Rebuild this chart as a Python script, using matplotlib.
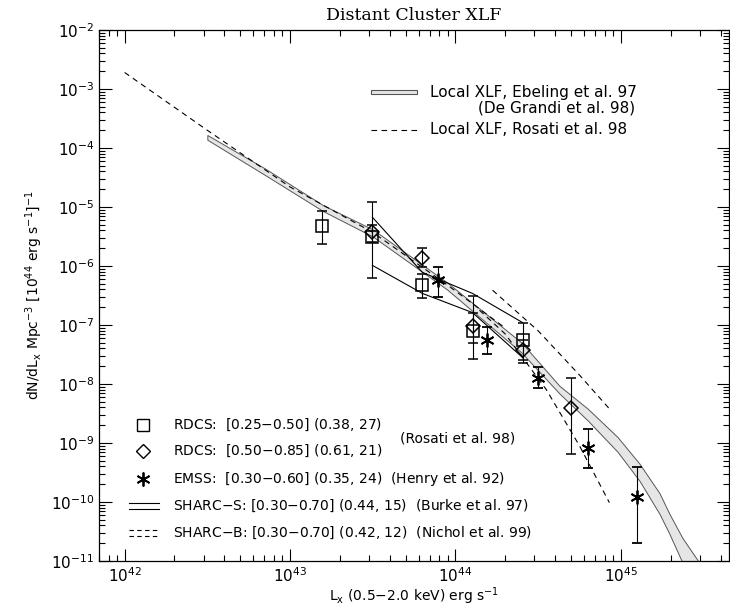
import numpy as np
import matplotlib
matplotlib.use("Agg")
import matplotlib.pyplot as plt
from matplotlib.patches import Rectangle
from matplotlib.ticker import FixedLocator, NullFormatter, LogFormatterMathtext

# ---------------- data (log10 values) ----------------
# RDCS 0.25-0.50 (squares)
sq_logL = [43.196, 43.498, 43.80, 44.103, 44.405]
sq_logn = [-5.33, -5.51, -6.33, -7.11, -7.25]
sq_lo = [-5.62, -6.21, -6.55, -7.57, -7.65]
sq_hi = [-5.07, -4.92, -6.13, -6.50, -6.96]

# RDCS 0.50-0.85 (diamonds)
di_logL = [43.498, 43.80, 44.103, 44.405, 44.70]
di_logn = [-5.43, -5.87, -7.01, -7.42, -8.40]
di_lo = [-5.60, -6.02, -7.30, -7.60, -9.18]
di_hi = [-5.30, -5.70, -6.80, -7.25, -7.89]

# EMSS (asterisks)
em_logL = [43.897, 44.193, 44.50, 44.80, 45.10]
em_logn = [-6.245, -7.25, -7.89, -9.08, -9.91]
em_lo = [-6.53, -7.49, -8.06, -9.42, -10.69]
em_hi = [-6.01, -7.03, -7.72, -8.77, -9.40]

# SHARC-S envelope (solid)
ss_logL = [43.498, 43.80, 44.103, 44.405]
ss_up = [-5.175, -6.109, -6.465, -6.958]
ss_lo = [-5.99, -6.465, -6.79, -7.55]

# SHARC-B envelope (dashed)
sb_up_logL = [44.224, 44.50, 44.75, 44.93]
sb_up = [-6.41, -7.10, -7.85, -8.42]
sb_lo_logL = [44.145, 44.30, 44.55, 44.75, 44.93]
sb_lo = [-6.75, -7.15, -8.10, -9.05, -10.01]

# Local XLF, Ebeling et al. 97 (band edges)
band_logL = [42.50, 42.85, 43.20, 43.50, 43.95, 44.40, 44.628, 44.80, 44.98,
             45.112, 45.233, 45.293, 45.372, 45.474]
band_up = [-3.78, -4.35, -4.97, -5.38, -6.28, -7.30, -8.03, -8.42, -8.90,
           -9.35, -9.85, -10.20, -10.61, -11.03]
band_lo = [-3.86, -4.46, -5.07, -5.50, -6.40, -7.47, -8.16, -8.62, -9.15,
           -9.64, -10.20, -10.54, -11.03, -11.03]

# Local XLF, Rosati et al. 98 (dashed)
ro_logL = [42.0, 42.5, 43.0, 43.5, 43.95, 44.3]
ro_logn = [-2.72, -3.70, -4.66, -5.43, -6.32, -7.05]

# axis ticks
x_major = [1e42, 1e43, 1e44, 1e45]
y_major = [1e-11, 1e-10, 1e-9, 1e-8, 1e-7, 1e-6, 1e-5, 1e-4, 1e-3, 1e-2]

# ---------------- figure ----------------
plt.rcParams["font.family"] = ["DejaVu Sans"]
plt.rcParams["mathtext.fontset"] = "dejavusans"

W, H = 730, 607
fig = plt.figure(figsize=(W / 100, H / 100), dpi=100)
L, R, T, B = 99, 729, 30, 561
ax = fig.add_axes([L / W, 1 - B / H, (R - L) / W, (B - T) / H])
ax.set_xscale("log")
ax.set_yscale("log")
ax.set_xlim(7e41, 4.5e45)
ax.set_ylim(1e-11, 1e-2)

P = lambda v: 10 ** np.asarray(v, dtype=float)

def axpt(px, py):
    return ((px - L) / (R - L), (B - py) / (B - T))

fs = 10
fs_top = 11

# band
ax.fill_between(P(band_logL), P(band_up), P(band_lo), facecolor="#e6e6e6",
                edgecolor="#555555", linewidth=0.7, zorder=1)
# Rosati local
ax.plot(P(ro_logL), P(ro_logn), color="k", lw=0.8, ls=(0, (5, 4)), zorder=2)

# SHARC-S
ax.plot(P(ss_logL), P(ss_up), color="k", lw=0.8, zorder=3)
ax.plot(P(ss_logL), P(ss_lo), color="k", lw=0.8, zorder=3)
# SHARC-B
ax.plot(P(sb_up_logL), P(sb_up), color="k", lw=0.8, ls=(0, (5, 4)), zorder=3)
ax.plot(P(sb_lo_logL), P(sb_lo), color="k", lw=0.8, ls=(0, (5, 4)), zorder=3)

def errs(logn, lo, hi):
    n = P(logn)
    return [n - P(lo), P(hi) - n]

ekw = dict(ecolor="k", elinewidth=0.8, capsize=3.5, capthick=0.8, ls="none", zorder=4)
ax.errorbar(P(sq_logL), P(sq_logn), yerr=errs(sq_logn, sq_lo, sq_hi), marker="s",
            ms=8, mfc="none", mec="k", mew=1.1, **ekw)
ax.errorbar(P(di_logL), P(di_logn), yerr=errs(di_logn, di_lo, di_hi), marker="D",
            ms=7, mfc="none", mec="k", mew=1.1, **ekw)
ax.errorbar(P(em_logL), P(em_logn), yerr=errs(em_logn, em_lo, em_hi), marker=(6, 2, 0),
            ms=10, mfc="k", mec="k", mew=1.3, **ekw)

# ticks
x_minor = [m * 10.0 ** e for e in range(41, 46) for m in range(2, 10)]
x_minor = [v for v in x_minor if 7e41 <= v <= 4.5e45]
y_minor = [m * 10.0 ** e for e in range(-11, -2) for m in range(2, 10)]
ax.xaxis.set_major_locator(FixedLocator(x_major))
ax.yaxis.set_major_locator(FixedLocator(y_major))
ax.xaxis.set_minor_locator(FixedLocator(x_minor))
ax.yaxis.set_minor_locator(FixedLocator(y_minor))
ax.xaxis.set_major_formatter(LogFormatterMathtext())
ax.yaxis.set_major_formatter(LogFormatterMathtext())
ax.xaxis.set_minor_formatter(NullFormatter())
ax.yaxis.set_minor_formatter(NullFormatter())
ax.tick_params(which="both", direction="in", top=True, right=True, labelsize=11)
ax.tick_params(which="major", length=9, width=0.8)
ax.tick_params(which="minor", length=4.5, width=0.8)
for sp in ax.spines.values():
    sp.set_linewidth(0.9)
ax.tick_params(axis="x", pad=4)

ax.set_title("Distant Cluster XLF", family="DejaVu Serif", fontsize=12.5, pad=7)
ax.set_xlabel(r"L$_{\rm x}$ (0.5$-$2.0 keV) erg s$^{-1}$", fontsize=10, labelpad=0)
ax.set_ylabel(r"dN/dL$_{\rm x}$ Mpc$^{-3}$ [10$^{44}$ erg s$^{-1}$]$^{-1}$", fontsize=10, labelpad=4)

# top legend
x0, y0 = axpt(371, 94)
x1, y1 = axpt(417, 90)
ax.add_patch(Rectangle((x0, y0), x1 - x0, y1 - y0, transform=ax.transAxes,
                       facecolor="#e6e6e6", edgecolor="#555555", lw=0.8, zorder=5))
ax.text(*axpt(430, 92), "Local XLF, Ebeling et al. 97", transform=ax.transAxes,
        fontsize=fs_top, va="center", ha="left")
ax.text(*axpt(478, 108), "(De Grandi et al. 98)", transform=ax.transAxes,
        fontsize=fs_top, va="center", ha="left")
xa, ya = axpt(371, 130)
xb, _ = axpt(417, 130)
ax.plot([xa, xb], [ya, ya], transform=ax.transAxes, color="k", lw=0.8, ls=(0, (5, 4)))
ax.text(*axpt(430, 130), "Local XLF, Rosati et al. 98", transform=ax.transAxes,
        fontsize=fs_top, va="center", ha="left")

# bottom legend
rows = [425, 451, 479, 506, 533]
sx = 143
ax.plot(*axpt(sx, rows[0]), transform=ax.transAxes, marker="s", ms=8, mfc="none", mec="k", mew=1.0)
ax.plot(*axpt(sx, rows[1]), transform=ax.transAxes, marker="D", ms=7, mfc="none", mec="k", mew=1.0)
ax.plot(*axpt(sx, rows[2]), transform=ax.transAxes, marker=(6, 2, 0), ms=10, mec="k", mew=1.3)
for dy in (-3, 3):
    xa, ya = axpt(129, rows[3] + dy)
    xb, _ = axpt(159, rows[3] + dy)
    ax.plot([xa, xb], [ya, ya], transform=ax.transAxes, color="k", lw=0.8)
for dy in (-3, 3):
    xa, ya = axpt(129, rows[4] + dy)
    xb, _ = axpt(159, rows[4] + dy)
    ax.plot([xa, xb], [ya, ya], transform=ax.transAxes, color="k", lw=0.8, ls=(0, (4, 3)))

labels = [
    r"RDCS:  [0.25$-$0.50] (0.38, $\it{27)}$",
    r"RDCS:  [0.50$-$0.85] (0.61, $\it{21)}$",
    r"EMSS:  [0.30$-$0.60] (0.35, $\it{24)}$  (Henry et al. 92)",
    r"SHARC$-$S: [0.30$-$0.70] (0.44, $\it{15)}$  (Burke et al. 97)",
    r"SHARC$-$B: [0.30$-$0.70] (0.42, $\it{12)}$  (Nichol et al. 99)",
]
for y, t in zip(rows, labels):
    ax.text(*axpt(173, y), t, transform=ax.transAxes, fontsize=fs, va="center", ha="left")
ax.text(*axpt(400, (rows[0] + rows[1]) / 2 + 1), "(Rosati et al. 98)", transform=ax.transAxes,
        fontsize=fs, va="center", ha="left")

fig.savefig("out.png", dpi=100)
